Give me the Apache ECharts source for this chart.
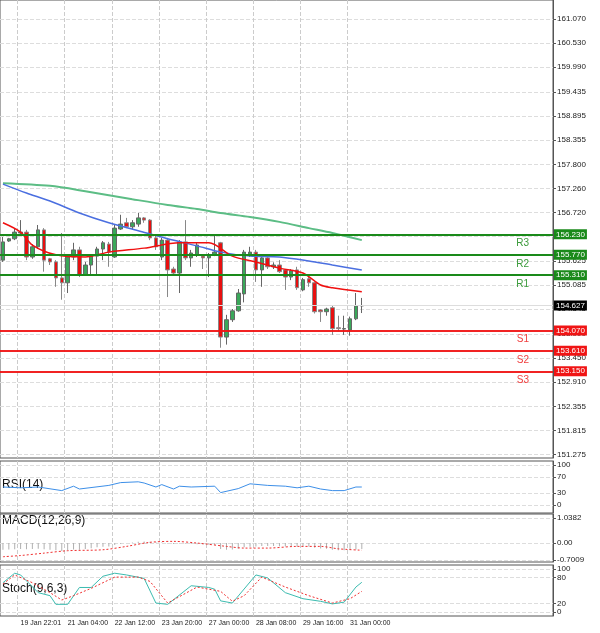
<!DOCTYPE html>
<html>
<head>
<meta charset="utf-8">
<script src="https://cdn.jsdelivr.net/npm/echarts@6/dist/echarts.min.js"></script>
<style>html,body{margin:0;padding:0;background:#fff}#main{width:600px;height:633px}</style>
</head>
<body>
<div id="main"></div>
<script>
// candles: [open, close, low, high]
var candles = [
  [155.65,156.06,155.61,156.17],[156.08,156.13,156.06,156.15],[156.13,156.28,156.10,156.35],[156.26,156.28,156.22,156.55],
  [156.28,155.72,155.65,156.33],[155.72,155.95,155.68,156.01],[155.95,156.33,155.90,156.44],[156.33,155.65,155.39,156.37],
  [155.68,155.61,155.54,155.70],[155.61,155.25,155.05,155.65],[155.25,155.14,154.76,156.26],[155.14,155.72,154.91,155.77],
  [155.72,155.88,155.65,156.04],[155.88,155.32,155.27,155.95],[155.32,155.54,155.30,155.61],[155.54,155.74,155.32,155.77],
  [155.74,155.90,155.32,155.95],[155.90,156.04,155.65,156.08],[156.01,155.83,155.50,156.06],[155.72,156.37,155.70,156.44],
  [156.35,156.46,156.33,156.67],[156.49,156.40,156.37,156.60],[156.40,156.49,156.33,156.55],[156.46,156.60,156.40,156.71],
  [156.60,156.55,156.49,156.62],[156.55,156.15,156.10,156.57],[156.15,155.95,155.88,156.20],[155.72,156.10,155.65,156.15],
  [156.10,155.43,154.82,156.15],[155.45,155.36,155.30,155.50],[155.36,156.06,154.91,156.10],[156.06,155.70,155.65,156.55],
  [155.70,155.81,155.50,155.88],[155.77,155.99,155.72,156.04],[155.74,155.70,155.45,155.77],[155.70,155.77,155.27,155.81],
  [155.77,155.83,155.74,156.22],[156.04,153.92,153.68,156.06],[153.92,154.31,153.75,154.42],[154.31,154.51,154.26,154.55],
  [154.51,154.91,154.49,155.00],[154.89,155.83,154.70,155.88],[155.77,155.83,155.72,155.95],[155.83,155.43,155.16,155.88],
  [155.43,155.70,155.05,155.74],[155.70,155.50,155.45,155.77],[155.50,155.54,155.45,155.60],[155.54,155.39,155.36,155.65],
  [155.43,155.27,154.98,155.45],[155.27,155.41,155.20,155.45],[155.43,155.03,154.98,155.50],[154.98,155.21,154.95,155.25],
  [155.23,155.14,155.05,155.30],[155.14,154.49,154.45,155.16],[154.53,154.49,154.26,154.55],[154.49,154.55,154.40,154.58],
  [154.58,154.11,153.97,154.62],[154.13,154.11,154.05,154.40],[154.10,154.11,153.97,154.40],[154.08,154.33,153.95,154.38],
  [154.33,154.62,154.30,154.91],[154.62,154.63,154.46,154.80]
];
var maRed = [[0,156.49],[3,156.28],[5,155.99],[9,155.77],[14,155.72],[18,155.83],[24,155.92],[30,156.04],[35,156.04],[39,155.74],[43,155.61],[47,155.47],[51,155.36],[54,155.09],[56,155.03],[61,154.94]];
var maBlue = [[0,157.36],[4,157.16],[8,156.98],[13,156.71],[18,156.49],[23,156.31],[28,156.13],[33,155.97],[37,155.83],[42,155.74],[47,155.72],[52,155.63],[56,155.54],[61,155.43]];
var maGreen = [[0,157.38],[8,157.32],[14,157.20],[22,157.02],[28,156.89],[33,156.80],[37,156.71],[42,156.62],[47,156.51],[52,156.37],[56,156.26],[61,156.10]];
var rsi = [[0,45],[3,43],[6,45],[10,36],[12,47],[13,40],[18,49],[20,56],[23,58],[24,55],[26,45],[27,51],[29,40],[30,47],[32,45],[36,47],[37,31],[40,41],[42,53],[45,49],[48,47],[50,43],[52,47],[54,40],[56,36],[58,36],[60,45],[61,45]];
var macdMain = [-0.28,-0.27,-0.26,-0.25,-0.26,-0.25,-0.24,-0.26,-0.28,-0.30,-0.33,-0.30,-0.27,-0.28,-0.25,-0.22,
  -0.18,-0.15,-0.14,-0.08,-0.03,0.00,0.02,0.05,0.06,0.05,0.03,0.02,-0.02,-0.04,-0.02,-0.03,
  -0.04,-0.05,-0.06,-0.07,-0.07,-0.25,-0.28,-0.27,-0.24,-0.18,-0.15,-0.14,-0.12,-0.12,-0.12,-0.13,
  -0.14,-0.13,-0.15,-0.14,-0.14,-0.20,-0.23,-0.24,-0.28,-0.30,-0.30,-0.29,-0.27,-0.25];
var macdSignal = [[0,-0.57],[3,-0.52],[7,-0.42],[11,-0.32],[17,-0.28],[21,-0.14],[25,0.03],[29,0.07],[33,0.00],[38,-0.14],[41,-0.21],[45,-0.21],[50,-0.14],[54,-0.14],[57,-0.24],[61,-0.30]];
var stochMain = [[0,68],[2,90],[3,86],[6,45],[8,38],[9,18],[11,18],[13,57],[15,57],[17,83],[19,90],[21,86],[24,78],[26,21],[28,18],[32,61],[35,57],[36,53],[37,26],[39,21],[43,86],[45,79],[48,45],[51,31],[54,25],[56,19],[58,23],[60,58],[61,69]];
var stochSignal = [[0,65],[2,86],[5,68],[8,45],[10,28],[12,38],[15,55],[19,81],[23,81],[25,71],[28,21],[33,58],[37,48],[39,25],[41,38],[44,81],[48,58],[52,38],[56,21],[59,31],[61,48]];
var resistance = [['R3',156.23],['R2',155.77],['R1',155.31]];
var support = [['S1',154.07],['S2',153.61],['S3',153.15]];
var lastPrice = 154.627;
var priceTicks = [151.275,151.815,152.355,152.910,153.450,153.990,154.545,155.085,155.625,156.185,156.720,157.260,157.800,158.355,158.895,159.435,159.990,160.530,161.070];
var timeLabels = ['19 Jan 22:01','21 Jan 04:00','22 Jan 12:00','23 Jan 20:00','27 Jan 00:00','28 Jan 08:00','29 Jan 16:00','31 Jan 00:00'];
var timeIdx = [3,11,19,27,35,43,51,59];

var nSlots = 94;
var cats = [];
for (var i = 0; i < nSlots; i++) cats.push(i);

var myChart = echarts.init(document.getElementById('main'));
var F = 'Arial, Liberation Sans, sans-serif';
var grids = [
  {left: 0, right: 47, top: 0, height: 458},
  {left: 0, right: 47, top: 461, height: 52},
  {left: 0, right: 47, top: 514, height: 48},
  {left: 0, right: 47, top: 565, height: 51}
];
grids.forEach(function (g) { g.show = true; g.borderColor = '#555'; g.borderWidth = 1; });

function xAx(idx, labels) {
  return {
    type: 'category', gridIndex: idx, data: cats, boundaryGap: true,
    axisLine: {show: false}, axisTick: {show: false},
    axisLabel: {
      show: labels, interval: function (i) { return timeIdx.indexOf(i) >= 0; },
      formatter: function (v) { var k = timeIdx.indexOf(Number(v)); return k >= 0 ? timeLabels[k] : ''; },
      fontSize: 7, color: '#222', fontFamily: F, align: 'left', margin: 4, hideOverlap: false
    },
    splitLine: {show: true, interval: function (i) { return timeIdx.indexOf(i) >= 0; }, lineStyle: {color: '#ccc', type: 'dashed'}}
  };
}
function yAx(idx, min, max, ticks, fmt) {
  return {
    type: 'value', gridIndex: idx, position: 'right', min: min, max: max, scale: true,
    axisLine: {show: true, lineStyle: {color: '#555'}},
    axisTick: {show: true, customValues: ticks, length: 3, lineStyle: {color: '#555'}},
    axisLabel: {customValues: ticks, fontSize: 8, color: '#222', fontFamily: F, margin: 4, formatter: fmt},
    splitLine: {show: true, lineStyle: {color: '#ddd', type: 'dashed'}}
  };
}

var levelLines = [];
resistance.forEach(function (r) {
  levelLines.push({yAxis: r[1], lineStyle: {color: '#1a8a1a', width: 2, type: 'solid'},
    label: {position: 'end', formatter: r[1].toFixed(3), color: '#fff', backgroundColor: '#1a8a1a', padding: [1, 2], fontSize: 8, distance: 1}});
  levelLines.push({yAxis: r[1], lineStyle: {color: '#1a8a1a', width: 2, type: 'solid'},
    label: {position: 'insideEndBottom', formatter: r[0], color: '#3a9a3a', fontSize: 10, distance: [24, 4]}});
});
support.forEach(function (s) {
  levelLines.push({yAxis: s[1], lineStyle: {color: '#f01414', width: 1.5, type: 'solid'},
    label: {position: 'end', formatter: s[1].toFixed(3), color: '#fff', backgroundColor: '#f01414', padding: [1, 2], fontSize: 8, distance: 1}});
  levelLines.push({yAxis: s[1], lineStyle: {color: '#f01414', width: 1.5, type: 'solid'},
    label: {position: 'insideEndBottom', formatter: s[0], color: '#f04040', fontSize: 10, distance: [24, 4]}});
});
levelLines.push({yAxis: lastPrice, lineStyle: {color: '#ddd', width: 1, type: 'solid'},
  label: {position: 'end', formatter: lastPrice.toFixed(3), color: '#fff', backgroundColor: '#000', padding: [1, 2], fontSize: 8, distance: 1}});

var option = {
  animation: false,
  backgroundColor: '#fff',
  grid: grids,
  xAxis: [xAx(0, false), xAx(1, false), xAx(2, false), xAx(3, true)],
  yAxis: [
    yAx(0, 151.20, 161.50, priceTicks, function (v) { return v.toFixed(3); }),
    yAx(1, -20, 110, [0, 30, 70, 100], function (v) { return String(v); }),
    yAx(2, -0.79, 1.21, [-0.7009, 0, 1.0382], function (v) { return v === 0 ? '0.00' : v.toFixed(4); }),
    yAx(3, -9, 109, [0, 20, 80, 100], function (v) { return String(v); })
  ],
  graphic: [
    {type: 'text', left: 2, top: 479, style: {text: 'RSI(14)', fontSize: 12, fill: '#111', fontFamily: F}},
    {type: 'text', left: 2, top: 515, style: {text: 'MACD(12,26,9)', fontSize: 12, fill: '#111', fontFamily: F}},
    {type: 'text', left: 2, top: 583, style: {text: 'Stoch(9,6,3)', fontSize: 12, fill: '#111', fontFamily: F}}
  ],
  series: [
    {type: 'candlestick', xAxisIndex: 0, yAxisIndex: 0, data: candles, barWidth: 4,
      itemStyle: {color: '#3aa85a', color0: '#e81010', borderColor: '#666', borderColor0: '#888', borderWidth: 1},
      markLine: {silent: true, symbol: ['none', 'none'], data: levelLines}},
    {type: 'line', xAxisIndex: 0, yAxisIndex: 0, data: maGreen, showSymbol: false, smooth: 0.3, lineStyle: {color: '#5cbd85', width: 2}},
    {type: 'line', xAxisIndex: 0, yAxisIndex: 0, data: maBlue, showSymbol: false, smooth: 0.3, lineStyle: {color: '#4b6fe0', width: 1.5}},
    {type: 'line', xAxisIndex: 0, yAxisIndex: 0, data: maRed, showSymbol: false, smooth: 0.3, lineStyle: {color: '#f01010', width: 1.5}},
    {type: 'line', xAxisIndex: 1, yAxisIndex: 1, data: rsi, showSymbol: false, lineStyle: {color: '#3d8fe8', width: 1}},
    {type: 'bar', xAxisIndex: 2, yAxisIndex: 2, data: macdMain, barWidth: 1, itemStyle: {color: '#b0b0b0'}},
    {type: 'line', xAxisIndex: 2, yAxisIndex: 2, data: macdSignal, showSymbol: false, smooth: 0.3, lineStyle: {color: '#f03030', width: 1, type: [2, 2]}},
    {type: 'line', xAxisIndex: 3, yAxisIndex: 3, data: stochMain, showSymbol: false, lineStyle: {color: '#3cbcb0', width: 1}},
    {type: 'line', xAxisIndex: 3, yAxisIndex: 3, data: stochSignal, showSymbol: false, lineStyle: {color: '#f03030', width: 1, type: [2, 2]}}
  ]
};
option && myChart.setOption(option);
</script>
</body>
</html>
